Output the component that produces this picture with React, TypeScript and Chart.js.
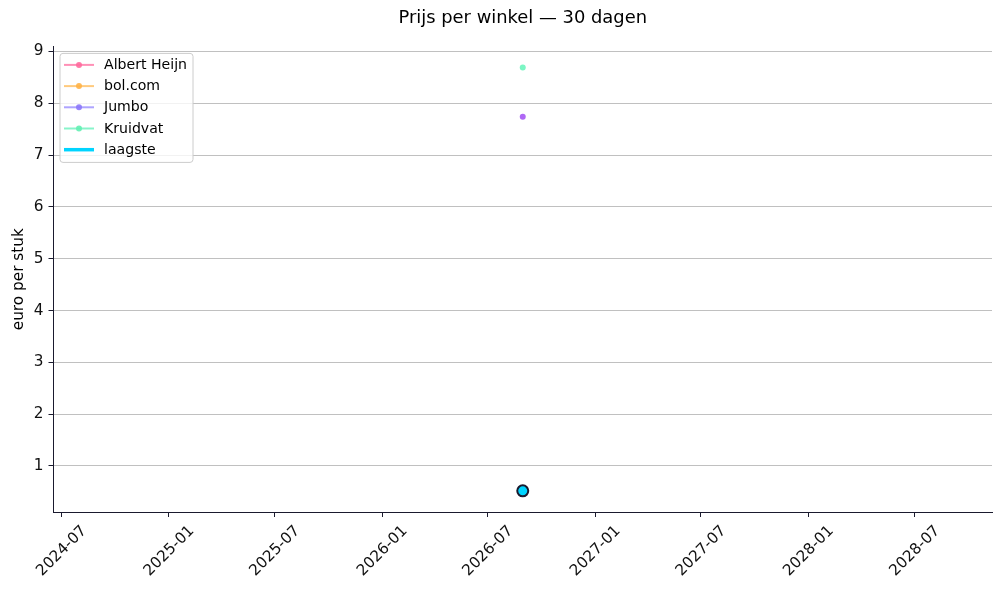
import { useEffect, useRef } from "react";
import { Chart, registerables } from "chart.js";

Chart.register(...registerables);

// ---- data ----
const dates = ["2026-08-30"];
const storeNames = ["Albert Heijn", "bol.com", "Jumbo", "Kruidvat"];
const albertHeijn: (number | null)[] = [0.52];
const bolCom: (number | null)[] = [null];
const jumbo: (number | null)[] = [7.74];
const kruidvat: (number | null)[] = [8.69];
const laagste: (number | null)[] = [0.52];
const xTickLabels = [
  "2024-07", "2025-01", "2025-07", "2026-01", "2026-07",
  "2027-01", "2027-07", "2028-01", "2028-07",
];
const yTickValues = [1, 2, 3, 4, 5, 6, 7, 8, 9];
const titleText = "Prijs per winkel — 30 dagen";

// ---- styles ----
const lineColors = ["rgba(255,107,157,0.75)", "rgba(255,179,71,0.7)", "rgba(140,125,255,0.7)", "rgba(85,239,180,0.7)"];
const markerColors = ["rgba(255,107,157,0.9)", "rgba(255,179,71,0.9)", "rgba(166,88,244,0.9)", "rgba(110,245,190,0.9)"];
const legendMarkerColors = ["rgba(255,107,157,0.9)", "rgba(255,179,71,0.9)", "rgba(140,120,250,0.9)", "rgba(100,240,180,0.9)"];
const FONT = "'DejaVu Sans', sans-serif";
const TICK_SIZE = 15.3;
const DAY = 86400000;

const toMs = (s: string) => {
  const [y, m, d] = s.split("-").map(Number);
  return Date.UTC(y, m - 1, d || 1);
};

const titlePlugin = {
  id: "axesTitle",
  afterDraw(chart: any) {
    const ctx = chart.ctx as CanvasRenderingContext2D;
    const a = chart.chartArea;
    ctx.save();
    ctx.font = `17.9px ${FONT}`;
    ctx.fillStyle = "#000";
    ctx.textAlign = "center";
    ctx.textBaseline = "middle";
    ctx.fillText(titleText, (a.left + a.right) / 2, 18.5);
    ctx.restore();
  },
};

const legendPlugin = {
  id: "boxLegend",
  afterDraw(chart: any) {
    const ctx = chart.ctx as CanvasRenderingContext2D;
    const a = chart.chartArea;
    const x0 = a.left + 6.5;
    const y0 = a.top + 7;
    const w = 133;
    const h = 109;
    ctx.save();
    ctx.beginPath();
    (ctx as any).roundRect(x0, y0, w, h, 3);
    ctx.fillStyle = "rgba(255,255,255,0.8)";
    ctx.fill();
    ctx.strokeStyle = "#cccccc";
    ctx.lineWidth = 1;
    ctx.stroke();
    ctx.font = `14.1px ${FONT}`;
    ctx.textBaseline = "middle";
    ctx.textAlign = "left";
    chart.data.datasets.forEach((ds: any, i: number) => {
      const cy = y0 + 11.5 + i * 21.2;
      ctx.beginPath();
      ctx.moveTo(x0 + 4, cy);
      ctx.lineTo(x0 + 34, cy);
      ctx.strokeStyle = ds.legendLine;
      ctx.lineWidth = ds.legendLineWidth;
      ctx.stroke();
      if (ds.legendMarker) {
        ctx.beginPath();
        ctx.arc(x0 + 19, cy, 3, 0, Math.PI * 2);
        ctx.fillStyle = ds.legendMarker;
        ctx.fill();
      }
      ctx.fillStyle = "#000";
      ctx.fillText(ds.label, x0 + 44, cy + 0.5);
    });
    ctx.restore();
  },
};

export default function App() {
  const ref = useRef<HTMLCanvasElement | null>(null);

  useEffect(() => {
    document.body.style.margin = "0";
    const xs = dates.map(toMs);
    const series = [albertHeijn, bolCom, jumbo, kruidvat];
    const toPts = (vals: (number | null)[]) =>
      vals.map((v, i) => ({ x: xs[i], y: v }));

    // matplotlib-like auto limits
    const allVals = [...series.flat(), ...laagste].filter((v) => v !== null) as number[];
    const yMinD = Math.min(...allVals);
    const yMaxD = Math.max(...allVals);
    const yPad = (yMaxD - yMinD) * 0.05;
    const xMinD = Math.min(...xs) - 730.485 * DAY;
    const xMaxD = Math.max(...xs) + 730.485 * DAY;
    const xPad = (xMaxD - xMinD) * 0.05;

    const datasets: any[] = storeNames.map((name, i) => ({
      label: name,
      data: toPts(series[i]),
      order: 10 - i,
      borderColor: lineColors[i],
      borderWidth: 2,
      pointRadius: 3,
      pointBorderWidth: 0,
      pointBackgroundColor: markerColors[i],
      legendLine: lineColors[i],
      legendLineWidth: 2,
      legendMarker: legendMarkerColors[i],
    }));
    datasets.push({
      label: "laagste",
      data: toPts(laagste),
      order: 1,
      borderColor: "#00d4ff",
      borderWidth: 3.5,
      pointRadius: 5.5,
      pointBorderWidth: 2,
      pointBorderColor: "#1a1a2e",
      pointBackgroundColor: "#00d4ff",
      legendLine: "#00d4ff",
      legendLineWidth: 3.5,
      legendMarker: null,
    });

    const chart = new Chart(ref.current!, {
      type: "line",
      data: { datasets },
      plugins: [titlePlugin, legendPlugin],
      options: {
        animation: false,
        responsive: false,
        devicePixelRatio: 1,
        layout: { padding: { left: 0, right: 9, top: 46.4, bottom: 0 } },
        plugins: {
          legend: { display: false },
          tooltip: { enabled: false },
          title: { display: false },
        },
        scales: {
          x: {
            type: "linear",
            min: xMinD - xPad,
            max: xMaxD + xPad,
            afterBuildTicks: (scale: any) => {
              scale.ticks = xTickLabels.map((l) => ({ value: toMs(l), label: l }));
            },
            afterFit: (scale: any) => {
              scale.height = 78;
            },
            ticks: {
              autoSkip: false,
              minRotation: 45,
              maxRotation: 45,
              padding: 5,
              labelOffset: 23,
              color: "#111",
              font: { family: FONT, size: TICK_SIZE },
              callback: (_v: any, i: number) => xTickLabels[i],
            },
            grid: {
              display: true,
              drawOnChartArea: false,
              drawTicks: true,
              tickLength: 5,
              tickColor: "#1a1a2e",
              tickWidth: 1,
            },
            border: { display: true, color: "#1a1a2e", width: 1 },
          },
          y: {
            type: "linear",
            min: yMinD - yPad,
            max: yMaxD + yPad,
            afterBuildTicks: (scale: any) => {
              scale.ticks = yTickValues.map((v) => ({ value: v }));
            },
            afterFit: (scale: any) => {
              scale.width = 53.5;
            },
            ticks: {
              padding: 5,
              color: "#111",
              font: { family: FONT, size: TICK_SIZE },
              callback: (v: any) => String(v),
            },
            title: {
              display: true,
              text: "euro per stuk",
              color: "#000",
              font: { family: FONT, size: 15.3 },
              padding: { top: 10, bottom: 0 },
            },
            grid: {
              display: true,
              color: "#b0b0b0",
              lineWidth: 0.8,
              drawTicks: true,
              tickLength: 5,
              tickColor: "#1a1a2e",
              tickWidth: 1,
            },
            border: { display: true, color: "#1a1a2e", width: 1 },
          },
        },
      } as any,
    });
    return () => chart.destroy();
  }, []);

  return (
    <div style={{ width: 1001, height: 590 }}>
      <canvas ref={ref} width={1001} height={590} style={{ width: 1001, height: 590 }} />
    </div>
  );
}
